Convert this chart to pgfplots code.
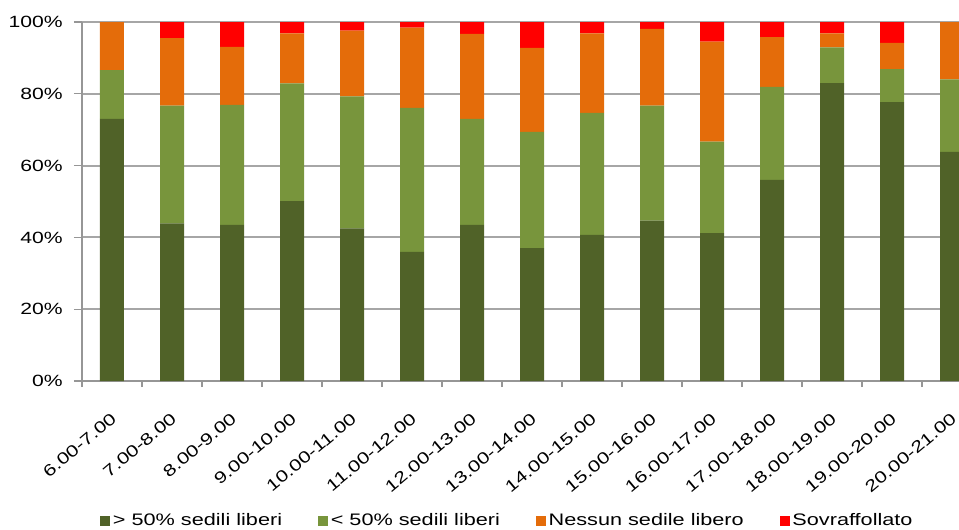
\documentclass[border=0pt]{standalone}
\usepackage{pgfplots}
\usepackage{pgfplotstable}
\pgfplotsset{compat=1.18}
\usepackage{fontspec}
\setmainfont{Liberation Sans}[FakeStretch=1.3]
\definecolor{c1}{RGB}{80,98,40}
\definecolor{c2}{RGB}{120,149,60}
\definecolor{c3}{RGB}{228,108,10}
\definecolor{c4}{RGB}{255,0,0}
\definecolor{gridc}{RGB}{166,166,166}
\definecolor{axc}{RGB}{150,150,150}
\pgfplotstableread{
x a b c d
0  73.0 13.6 13.4 0.0
1  43.9 32.8 18.8 4.5
2  43.5 33.4 16.2 6.9
3  50.1 32.8 13.9 3.2
4  42.5 36.8 18.3 2.4
5  36.0 40.1 22.3 1.6
6  43.5 29.5 23.7 3.3
7  37.0 32.4 23.4 7.2
8  40.7 34.0 22.1 3.2
9  44.7 32.0 21.4 1.9
10 41.2 25.5 27.8 5.5
11 56.0 25.9 13.9 4.2
12 83.0  9.9  3.9 3.2
13 77.7  9.2  7.3 5.8
14 63.8 20.2 16.0 0.0
}\data
\begin{document}
\begin{tikzpicture}
\begin{axis}[
  at={(0pt,0pt)}, anchor=south west,
  scale only axis, width=675pt, height=269.25pt,
  xmin=-0.5, xmax=14.5, ymin=0, ymax=100,
  ybar stacked, bar width=18pt,
  axis x line*=bottom, axis y line*=left,
  axis line style={axc, line width=1.5pt},
  ytick={0,20,...,100},
  yticklabels={0\%,20\%,40\%,60\%,80\%,100\%},
  ymajorgrids, grid style={gridc, line width=1.5pt},
  xtick={0,...,14},
  xticklabels={6.00-7.00,7.00-8.00,8.00-9.00,9.00-10.00,10.00-11.00,11.00-12.00,12.00-13.00,13.00-14.00,14.00-15.00,15.00-16.00,16.00-17.00,17.00-18.00,18.00-19.00,19.00-20.00,20.00-21.00},
  minor xtick={-0.5,0.5,...,14.5},
  major x tick style={draw=none},
  minor x tick style={axc, line width=0.8pt},
  y tick style={axc, line width=0.8pt},
  tick align=outside, major tick length=6pt, minor tick length=4.5pt,
  tick label style={font=\fontsize{12.2pt}{14pt}\selectfont, text=black},
  yticklabel style={anchor=east, xshift=-5pt},
  xticklabel style={rotate=40, anchor=north east, inner sep=0pt, yshift=-12pt, xshift=-12pt},
  legend columns=4,
  legend style={at={(0.02,-0.362)}, anchor=north west, draw=none, fill=none,
    font=\fontsize{12.5pt}{14pt}\selectfont, inner sep=0pt,
    /tikz/every even column/.append style={column sep=25pt}},
  legend image code/.code={\fill[#1] (0pt,-3.75pt) rectangle (7.5pt,3.75pt);},
]
\addplot[fill=c1, draw=none] table[x=x,y=a] {\data};
\addplot[fill=c2, draw=none] table[x=x,y=b] {\data};
\addplot[fill=c3, draw=none] table[x=x,y=c] {\data};
\addplot[fill=c4, draw=none] table[x=x,y=d] {\data};
\legend{> 50\% sedili liberi, < 50\% sedili liberi, Nessun sedile libero, Sovraffollato}
\end{axis}
\pgfresetboundingbox
\path[use as bounding box] (-61.5pt,-111pt) rectangle (657.75pt,285.75pt);
\end{tikzpicture}
\end{document}
